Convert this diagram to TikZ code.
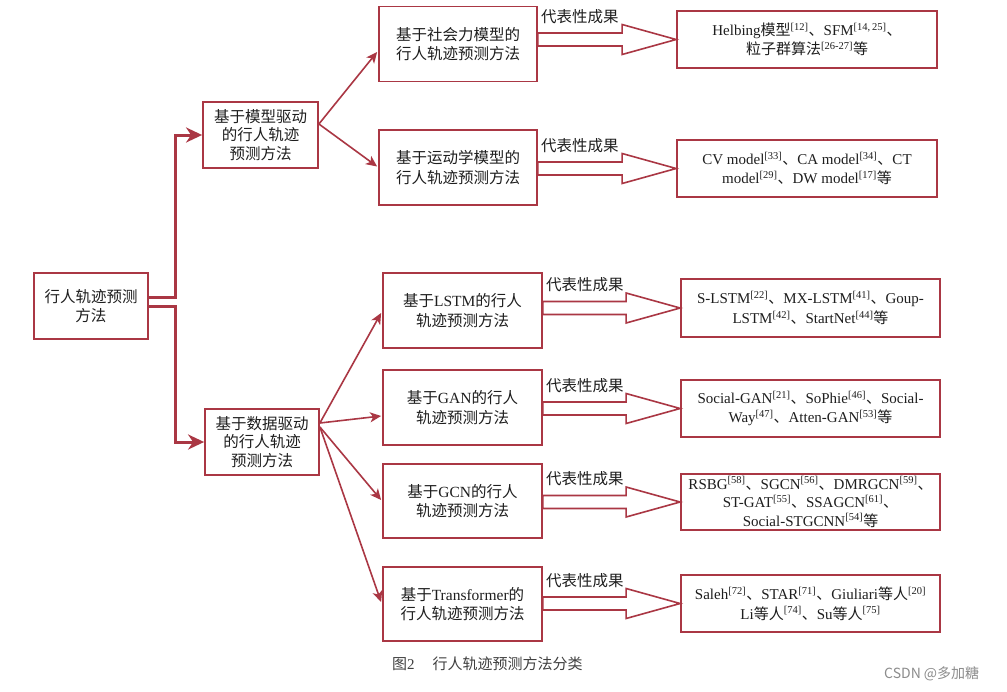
\documentclass[tikz,border=0pt]{standalone}
\usepackage{fontspec}
\setmainfont{Liberation Serif}
\newfontfamily\cjk{Noto Sans CJK SC}
\usetikzlibrary{arrows.meta,calc}
\definecolor{mred}{RGB}{170,55,68}
\definecolor{txt}{RGB}{30,30,30}
\newcommand\zh[1]{{\cjk #1}}
\newcommand\rf[1]{\textsuperscript{[#1]}}
\newcommand\blockarrow[2]{%
  \draw[blk] let \p1=(#1.east), \p2=(#2.west) in
    (\x1,\y2+6.5pt) -- (\x2-54pt,\y2+6.5pt) -- (\x2-54pt,\y2+15pt) -- (\x2,\y2)
    -- (\x2-54pt,\y2-15pt) -- (\x2-54pt,\y2-6.5pt) -- (\x1,\y2-6.5pt) -- cycle
    (\x1+42pt,\y2+23pt) node[lab] {代表性成果};}
\begin{document}
\begin{tikzpicture}[x=1pt,y=-1pt,
  box/.style={draw=mred,line width=1.8pt,fill=white,inner sep=0pt,align=center,text=txt},
  lvone/.style={box,minimum width=114pt,minimum height=66pt,font=\cjk\fontsize{15.5}{18.5}\selectfont},
  lvtwo/.style={box,minimum width=158pt,minimum height=75pt,font=\fontsize{15.5}{19.5}\selectfont},
  res/.style={box,minimum width=259pt,minimum height=57pt,font=\fontsize{15}{19.5}\selectfont},
  thickc/.style={draw=mred,line width=3pt,-{Stealth[length=16pt,width=15pt,inset=5pt]}},
  thinc/.style={draw=mred,line width=1.6pt,-{Stealth[length=11pt,width=10pt,inset=3pt]}},
  blk/.style={draw=mred,line width=1.6pt,fill=white,line join=miter},
  lab/.style={font=\cjk\fontsize{15.5}{15.5}\selectfont,text=txt,inner sep=0pt}]
\fill[white] (0,0) rectangle (1007,691);
\useasboundingbox (0,0) rectangle (1007,691);

% level 0 and 1
\node[lvone] (root) at (91,306) {行人轨迹预测\\方法};
\node[lvone,minimum width=115pt] (model) at (260.5,135) {基于模型驱动\\的行人轨迹\\预测方法};
\node[lvone] (data) at (262,442) {基于数据驱动\\的行人轨迹\\预测方法};

% level 2
\node[lvtwo] (sf) at (458,44) {\zh{基于社会力模型的}\\\zh{行人轨迹预测方法}};
\node[lvtwo] (kin) at (458,167.5) {\zh{基于运动学模型的}\\\zh{行人轨迹预测方法}};
\node[lvtwo,minimum width=159pt] (lstm) at (462.5,310.5) {\zh{基于}LSTM\zh{的行人}\\\zh{轨迹预测方法}};
\node[lvtwo,minimum width=159pt] (gan) at (462.5,407.5) {\zh{基于}GAN\zh{的行人}\\\zh{轨迹预测方法}};
\node[lvtwo,minimum width=159pt,minimum height=74pt] (gcn) at (462.5,501) {\zh{基于}GCN\zh{的行人}\\\zh{轨迹预测方法}};
\node[lvtwo,minimum width=159pt,minimum height=74pt] (trans) at (462.5,604) {\zh{基于}Transformer\zh{的}\\\zh{行人轨迹预测方法}};

% results
\node[res,minimum width=260pt] (r1) at (807,39.5) {Helbing\zh{模型}\rf{12}\zh{、}SFM\rf{14,\,25}\zh{、}\\\zh{粒子群算法}\rf{26-27}\zh{等}};
\node[res,minimum width=260pt] (r2) at (807,168.5) {CV model\rf{33}\zh{、}CA model\rf{34}\zh{、}CT\\model\rf{29}\zh{、}DW model\rf{17}\zh{等}};
\node[res,minimum height=58pt] (r3) at (810.5,308) {S-LSTM\rf{22}\zh{、}MX-LSTM\rf{41}\zh{、}Goup-\\LSTM\rf{42}\zh{、}StartNet\rf{44}\zh{等}};
\node[res] (r4) at (810.5,408.5) {Social-GAN\rf{21}\zh{、}SoPhie\rf{46}\zh{、}Social-\\Way\rf{47}\zh{、}Atten-GAN\rf{53}\zh{等}};
\node[res,minimum height=56pt,font=\fontsize{15}{18.5}\selectfont] (r5) at (810.5,502) {RSBG\rf{58}\zh{、}SGCN\rf{56}\zh{、}DMRGCN\rf{59}\zh{、}\\ST-GAT\rf{55}\zh{、}SSAGCN\rf{61}\zh{、}\\Social-STGCNN\rf{54}\zh{等}};
\node[res] (r6) at (810.5,603.5) {Saleh\rf{72}\zh{、}STAR\rf{71}\zh{、}Giuliari\zh{等人}\rf{20}\\Li\zh{等人}\rf{74}\zh{、}Su\zh{等人}\rf{75}};

% thick connectors from root
\draw[thickc] ($(root.east)+(0,-9)$) -- ++(27,0) |- (model.west);
\draw[thickc] (root.east) -- ++(27,0) |- (data.west);

% thin connectors
\draw[thinc] ($(model.east)+(0,-11)$) -- ($(sf.west)+(-1,8)$);
\draw[thinc] ($(model.east)+(0,-11)$) -- ($(kin.west)+(-1,-1)$);
\draw[thinc] ($(data.east)+(0,-19)$) -- ($(lstm.west)+(-1,2.5)$);
\draw[thinc] ($(data.east)+(0,-19)$) -- ($(gan.west)+(-1,8.5)$);
\draw[thinc] ($(data.east)+(0,-15)$) -- ($(gcn.west)+(-1,-1)$);
\draw[thinc] ($(data.east)+(0,-15)$) -- ($(trans.west)+(-1,-2)$);

% block arrows
\blockarrow{sf}{r1}
\blockarrow{kin}{r2}
\blockarrow{lstm}{r3}
\blockarrow{gan}{r4}
\blockarrow{gcn}{r5}
\blockarrow{trans}{r6}

% caption and watermark
\node[anchor=west,inner sep=0pt,text=txt!85,font=\fontsize{15}{15}\selectfont] (cap) at (392,664) {\zh{图}2\hspace{18pt}\zh{行人轨迹预测方法分类}};
\node[anchor=west,inner sep=0pt,text=black!45,font=\cjk\fontsize{14}{14}\selectfont] (wm) at (884,674) {CSDN @多加糖};
\end{tikzpicture}
\end{document}
